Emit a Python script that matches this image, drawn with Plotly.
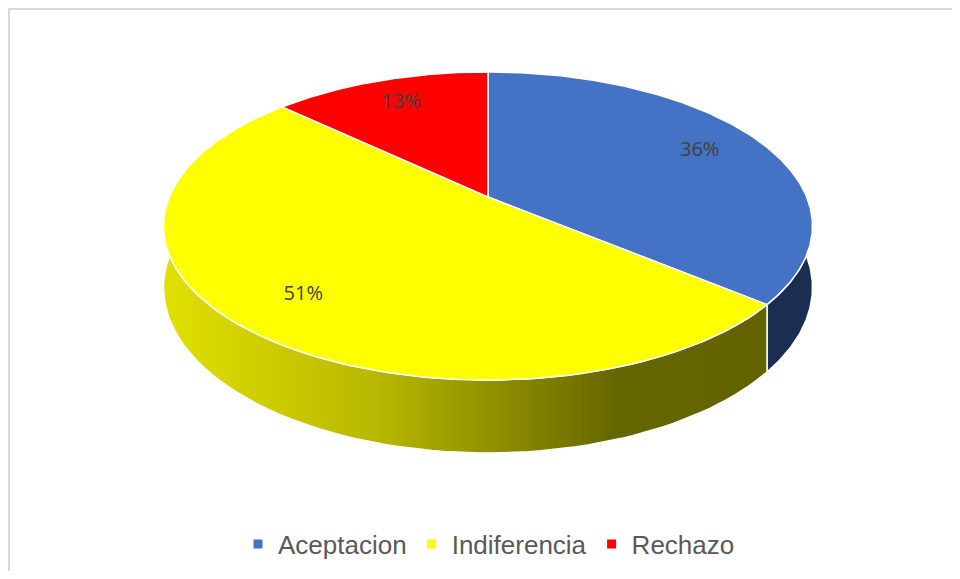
import numpy as np
import plotly.graph_objects as go

# ---- data ----
categories = ["Aceptacion", "Indiferencia", "Rechazo"]
values = [36, 51, 13]
pct_labels = ["36%", "51%", "13%"]
top_colors = ["#4472c4", "#ffff00", "#ff0000"]
side_colors = ["#1b2d50", "#666600", "#8b0000"]

# ---- projection of the tilted pie (pixel space of the page) ----
PAGE_W, PAGE_H = 960, 579
OFF = 8  # page body margin on each side
W, H = PAGE_W - 2 * OFF, PAGE_H - 2 * OFF
cx, cy = 488.0, 197.0
a, b, k = 318.7, 148.6, 0.188
depth = 59.3


def project(phi_deg, r=1.0, z=0.0):
    phi = np.radians(np.asarray(phi_deg, dtype=float))
    X = r * np.sin(phi)
    Y = -r * np.cos(phi)
    w = 1 - k * Y
    return cx + a * X / w, cy + (b * Y + depth * z) / w


total = float(sum(values))
ends = np.cumsum(values) / total * 360.0
starts = np.concatenate([[0.0], ends[:-1]])

fig = go.Figure()

# side walls (front half only)
for i, (s, e) in enumerate(zip(starts, ends)):
    s2, e2 = max(s, 90.0), min(e, 270.0)
    if e2 <= s2:
        continue
    phis = np.linspace(s2, e2, 80)
    tx, ty = project(phis)
    bx, by = project(phis, z=1.0)
    px = np.concatenate([tx, bx[::-1], tx[:1]])
    py = np.concatenate([ty, by[::-1], ty[:1]])
    kw = dict(fillcolor=side_colors[i])
    if categories[i] == "Indiferencia":
        kw = dict(fillgradient=dict(type="horizontal",
                                    colorscale=[[0, "#e0e000"], [0.35, "#b8b800"],
                                                [0.75, "#666600"], [1, "#626200"]],
                                    start=float(px.min()), stop=float(px.max())))
    fig.add_trace(go.Scatter(x=px, y=py, mode="lines", fill="toself",
                             line=dict(color="white", width=1.5),
                             showlegend=False, hoverinfo="skip", **kw))

# top faces
for i, (s, e) in enumerate(zip(starts, ends)):
    phis = np.linspace(s, e, 200)
    ax_, ay_ = project(phis)
    px = np.concatenate([[cx], ax_, [cx]])
    py = np.concatenate([[cy], ay_, [cy]])
    fig.add_trace(go.Scatter(x=px, y=py, mode="lines", fill="toself",
                             fillcolor=top_colors[i],
                             line=dict(color="white", width=1.5),
                             showlegend=False, hoverinfo="text",
                             text=f"{categories[i]}: {pct_labels[i]}"))

# percentage labels
mids = (starts + ends) / 2
lx, ly = project(mids, r=0.78)
fig.add_trace(go.Scatter(x=lx, y=ly, mode="text", text=pct_labels,
                         textfont=dict(family="Open Sans", size=20, color="#404040"),
                         showlegend=False, hoverinfo="skip"))

# legend entries
for cat, col in zip(categories, top_colors):
    fig.add_trace(go.Scatter(x=[None], y=[None], mode="markers", name=cat,
                             marker=dict(symbol="square", size=9, color=col)))

# chart-area border (left and top edges visible in the frame)
fig.add_shape(type="path", xref="x", yref="y",
              path="M 9 640 L 9 9 L 1000 9",
              line=dict(color="#d9d9d9", width=2), layer="below")

fig.update_layout(
    width=W, height=H,
    margin=dict(l=0, r=0, t=0, b=0),
    paper_bgcolor="white", plot_bgcolor="white",
    xaxis=dict(range=[OFF, OFF + W], visible=False, fixedrange=True),
    yaxis=dict(range=[OFF + H, OFF], visible=False, fixedrange=True),
    legend=dict(orientation="h", x=(494 - 5 - OFF) / W, xanchor="center",
                y=1 - (544 - OFF) / H, yanchor="middle",
                font=dict(family="Liberation Sans", size=26, color="#595959"),
                bgcolor="rgba(0,0,0,0)"),
)

fig.write_html("out.html")
